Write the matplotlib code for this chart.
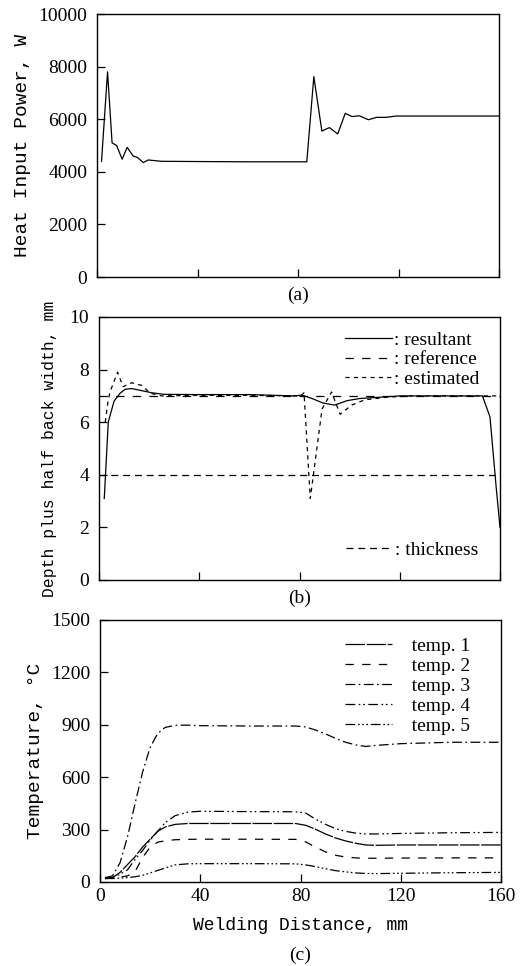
import numpy as np
import matplotlib
matplotlib.use('Agg')
import matplotlib.pyplot as plt

plt.rcParams['font.family'] = 'Liberation Serif'
plt.rcParams['lines.scale_dashes'] = False

MONO = 'Liberation Mono'

# (a) heat input power
x_power = [1.8, 4.2, 6.0, 7.8, 10.0, 12.0, 14.4, 16.2, 18.4, 20.4, 25.5, 40, 60, 83.5,
           86.3, 89.5, 92.5, 95.8, 98.8, 101.5, 104.4, 108.0, 111.3, 115.0, 119.0, 140, 160]
power = [4400, 7800, 5100, 5000, 4480, 4930, 4600, 4540, 4350, 4450, 4400, 4390, 4380, 4380,
         7620, 5550, 5680, 5440, 6220, 6100, 6130, 5980, 6070, 6070, 6120, 6120, 6120]

# (b) depth plus half back width
x_res = [2.1, 3.7, 6.0, 8.4, 10.4, 13.0, 17, 21, 26, 40, 60, 78, 81, 85, 89.4, 94, 99,
         104, 112, 120, 153, 156, 158.5, 160]
resultant = [3.1, 6.0, 6.8, 7.1, 7.25, 7.28, 7.2, 7.12, 7.06, 7.05, 7.05, 7.0, 7.03, 6.9,
             6.73, 6.65, 6.82, 6.9, 6.95, 7.0, 7.0, 6.2, 3.5, 2.0]
x_est = [2.5, 3.6, 4.4, 7.4, 9.6, 13.0, 17.0, 20.5, 25, 40, 60, 80.5, 81.8, 84.3, 89.0,
         92.8, 96.2, 100.8, 106, 115, 125, 160]
estimated = [6.0, 6.8, 7.15, 7.9, 7.35, 7.5, 7.4, 7.1, 7.0, 7.02, 7.02, 7.0, 7.12, 3.1,
             6.5, 7.15, 6.3, 6.65, 6.85, 6.95, 7.0, 7.0]
x_flat = [0, 160]
reference = [7.0, 7.0]
thickness = [4.0, 4.0]

# (c) temperatures
x_temp = [2, 5, 8, 11, 14, 17, 20, 23, 26, 30, 35, 40, 60, 78, 82, 86, 90, 94, 98, 102,
          106, 110, 120, 140, 160]
temp1 = [20, 25, 55, 100, 145, 200, 245, 290, 315, 330, 335, 335, 335, 335, 325, 302, 275,
         252, 235, 222, 212, 210, 212, 212, 212]
temp2 = [20, 22, 28, 35, 60, 140, 200, 228, 236, 242, 244, 245, 245, 244, 230, 200, 172,
         153, 143, 138, 136, 136, 137, 138, 138]
temp3 = [25, 35, 110, 260, 450, 630, 770, 850, 885, 897, 898, 895, 893, 893, 888, 870, 848,
         822, 800, 785, 776, 782, 792, 800, 800]
temp4 = [20, 25, 45, 70, 130, 180, 240, 290, 340, 380, 400, 405, 403, 402, 395, 360, 330,
         305, 290, 280, 275, 275, 278, 282, 284]
temp5 = [20, 20, 22, 25, 30, 38, 52, 66, 80, 98, 104, 105, 105, 104, 98, 88, 76, 65, 58,
         52, 49, 48, 50, 53, 55]

W, H = 528, 966
fig = plt.figure(figsize=(W / 100, H / 100), dpi=100)


def make_axes(left, right, top, bottom):
    ax = fig.add_axes([left / W, 1 - bottom / H, (right - left) / W, (bottom - top) / H])
    ax.set_xlim(0, 160)
    ax.set_xticks([0, 40, 80, 120, 160])
    ax.tick_params(direction='in', length=6, width=0.9, labelsize=14, pad=7)
    ax.tick_params(axis='x', pad=4)
    for s in ax.spines.values():
        s.set_linewidth(1.0)
    return ax


lw = 0.9

# ---- (a)
ax1 = make_axes(97, 499, 14, 277)
ax1.plot(x_power, power, color='black', lw=lw)
ax1.set_ylim(0, 10000)
ax1.set_yticks(range(0, 10001, 2000))
ax1.set_xticklabels([])
ax1.set_ylabel('Heat Input Power, W', family=MONO, fontsize=14, labelpad=5)
ax1.text(0.5, -0.068, '(a)', transform=ax1.transAxes, ha='center', va='center', fontsize=14)

# ---- (b)
ax2 = make_axes(99, 500, 317, 580)
l_res, = ax2.plot(x_res, resultant, color='black', lw=lw)
l_ref, = ax2.plot(x_flat, reference, color='black', lw=lw, dashes=(6, 6))
l_est, = ax2.plot(x_est, estimated, color='black', lw=lw, dashes=(3, 3))
l_thk, = ax2.plot(x_flat, thickness, color='black', lw=lw, dashes=(5, 3.5))
ax2.set_ylim(0, 10)
ax2.set_yticks(range(0, 11, 2))
ax2.set_xticklabels([])
ax2.set_ylabel('Depth plus half back width, mm', family=MONO, fontsize=11.8, labelpad=9)
ax2.text(0.5, -0.068, '(b)', transform=ax2.transAxes, ha='center', va='center', fontsize=14)
leg1 = ax2.legend([l_res, l_ref, l_est], [': resultant', ': reference', ': estimated'],
                  loc='upper right', bbox_to_anchor=(0.985, 1.0), frameon=False, fontsize=14,
                  handlelength=2.4, handletextpad=0.1, labelspacing=0.08, borderpad=0.25)
ax2.add_artist(leg1)
ax2.legend([l_thk], [': thickness'], loc='lower right', bbox_to_anchor=(0.985, 0.02),
           frameon=False, fontsize=14, handlelength=2.4, handletextpad=0.1, borderpad=0.3)

# ---- (c)
ax3 = make_axes(100, 501, 620, 882)
styles = [
    (temp1, (14, 1.2), 'temp. 1'),
    (temp2, (6, 6), 'temp. 2'),
    (temp3, (7, 2.5, 1.2, 2.5), 'temp. 3'),
    (temp4, (7, 2.5, 1.2, 2, 1.2, 2.5), 'temp. 4'),
    (temp5, (7, 2, 1.2, 1.8, 1.2, 1.8, 1.2, 2), 'temp. 5'),
]
for vals, dash, lab in styles:
    ax3.plot(x_temp, vals, color='black', lw=lw, dashes=dash, label='   ' + lab)
ax3.set_ylim(0, 1500)
ax3.set_yticks(range(0, 1501, 300))
ax3.set_ylabel('Temperature, °C', family=MONO, fontsize=14, labelpad=5)
ax3.set_xlabel('Welding Distance, mm', family=MONO, fontsize=13, labelpad=9)
ax3.text(0.5, -0.28, '(c)', transform=ax3.transAxes, ha='center', va='center', fontsize=14)
ax3.legend(loc='upper right', bbox_to_anchor=(0.968, 1.0), frameon=False, fontsize=14,
           handlelength=2.4, handletextpad=0.3, labelspacing=0.12, borderpad=0.4)

fig.savefig('out.png', dpi=100)
